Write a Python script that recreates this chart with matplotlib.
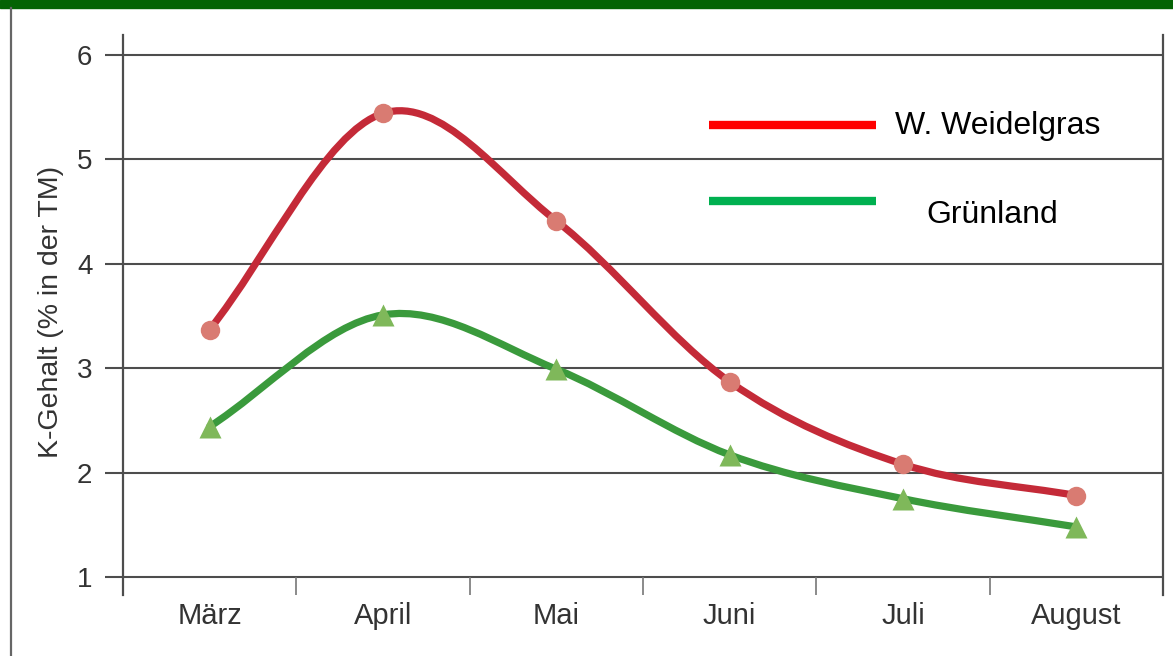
import numpy as np
import matplotlib.pyplot as plt
from matplotlib.path import Path
from matplotlib.patches import PathPatch, Rectangle
from matplotlib.lines import Line2D

plt.rcParams['font.family'] = ['Liberation Sans', 'DejaVu Sans']

# -----------------------------
# Data: K content (% of dry matter) by month
# -----------------------------
months = ["März", "April", "Mai", "Juni", "Juli", "August"]
weidelgras = [3.37, 5.44, 4.41, 2.87, 2.08, 1.78]
gruenland = [2.44, 3.51, 2.99, 2.17, 1.75, 1.48]
y_ticks = [1, 2, 3, 4, 5, 6]

series_names = ["W. Weidelgras", "Grünland"]


def smooth_path(xs, ys):
    # Catmull-Rom through the points, drawn as cubic Bezier segments
    pts = np.column_stack([xs, ys]).astype(float)
    ext = np.vstack([2 * pts[0] - pts[1], pts, 2 * pts[-1] - pts[-2]])
    verts = [tuple(pts[0])]
    codes = [Path.MOVETO]
    for i in range(1, len(ext) - 2):
        p0, p1, p2, p3 = ext[i - 1], ext[i], ext[i + 1], ext[i + 2]
        c1 = p1 + (p2 - p0) / 6.0
        c2 = p2 - (p3 - p1) / 6.0
        verts += [tuple(c1), tuple(c2), tuple(p2)]
        codes += [Path.CURVE4] * 3
    return Path(verts, codes)


fig = plt.figure(figsize=(11.73, 6.56), dpi=100)

# frame: dark green bar on top, grey line on the left
fig.add_artist(Rectangle((0, 1 - 8 / 656), 1, 8 / 656, transform=fig.transFigure,
                         color="#046304", zorder=0))
fig.add_artist(Line2D([10.5 / 1173, 10.5 / 1173], [0, 1 - 8 / 656],
                      transform=fig.transFigure, color="#666666", lw=1.6))

ax = fig.add_axes([123 / 1173, 1 - 595 / 656, 1040 / 1173, 560 / 656])

x = np.arange(len(months))
ax.set_xlim(-0.5, len(months) - 0.5)
ax.set_ylim(0.828, 6.19)

grid_col = "#4d4d4d"
for yv in y_ticks:
    ax.axhline(yv, color=grid_col, lw=1.5, zorder=1)

# category separators below the baseline
ax.vlines(np.arange(len(months) + 1) - 0.5, 0.828, 1, color="#777777", lw=1.2,
          zorder=1)

for side in ["top", "bottom"]:
    ax.spines[side].set_visible(False)
for side in ["left", "right"]:
    ax.spines[side].set_color(grid_col)
    ax.spines[side].set_linewidth(1.6)

ax.set_yticks(y_ticks)
ax.set_yticklabels([str(v) for v in y_ticks])
ax.tick_params(axis="y", length=13, width=1.5, color=grid_col, pad=9,
               labelsize=20, labelcolor="#333333")
ax.set_xticks(x)
ax.set_xticklabels(months)
ax.tick_params(axis="x", length=0, pad=5, labelsize=21, labelcolor="#333333")

ax.set_ylabel("K-Gehalt (% in der TM)", fontsize=20.5, color="#333333")
ax.yaxis.set_label_coords(-0.057, 0.505)

# curves
ax.add_patch(PathPatch(smooth_path(x, weidelgras), fill=False, edgecolor="#c42a38",
                       lw=5.2, capstyle="round", zorder=3))
ax.add_patch(PathPatch(smooth_path(x, gruenland), fill=False, edgecolor="#3a9a3c",
                       lw=5.2, capstyle="round", zorder=3))
ax.plot(x, weidelgras, "o", ms=14, color="#d97b72", mec="none", zorder=4)
ax.plot(x, gruenland, "^", ms=16, color="#7fb85a", mec="none", zorder=4)

# legend drawn by hand
fig.add_artist(Line2D([709 / 1173, 876 / 1173], [1 - 125 / 656, 1 - 125 / 656],
                      transform=fig.transFigure, color="#ff0000", lw=6,
                      solid_capstyle="butt"))
fig.add_artist(Line2D([709 / 1173, 876 / 1173], [1 - 201 / 656, 1 - 201 / 656],
                      transform=fig.transFigure, color="#00b050", lw=6,
                      solid_capstyle="butt"))
fig.text(895 / 1173, 1 - 126 / 656, series_names[0], fontsize=23, va="center",
         ha="left", color="black")
fig.text(926 / 1173, 1 - 215 / 656, series_names[1], fontsize=23, va="center",
         ha="left", color="black")

fig.savefig("out.png", dpi=100, facecolor="white")
